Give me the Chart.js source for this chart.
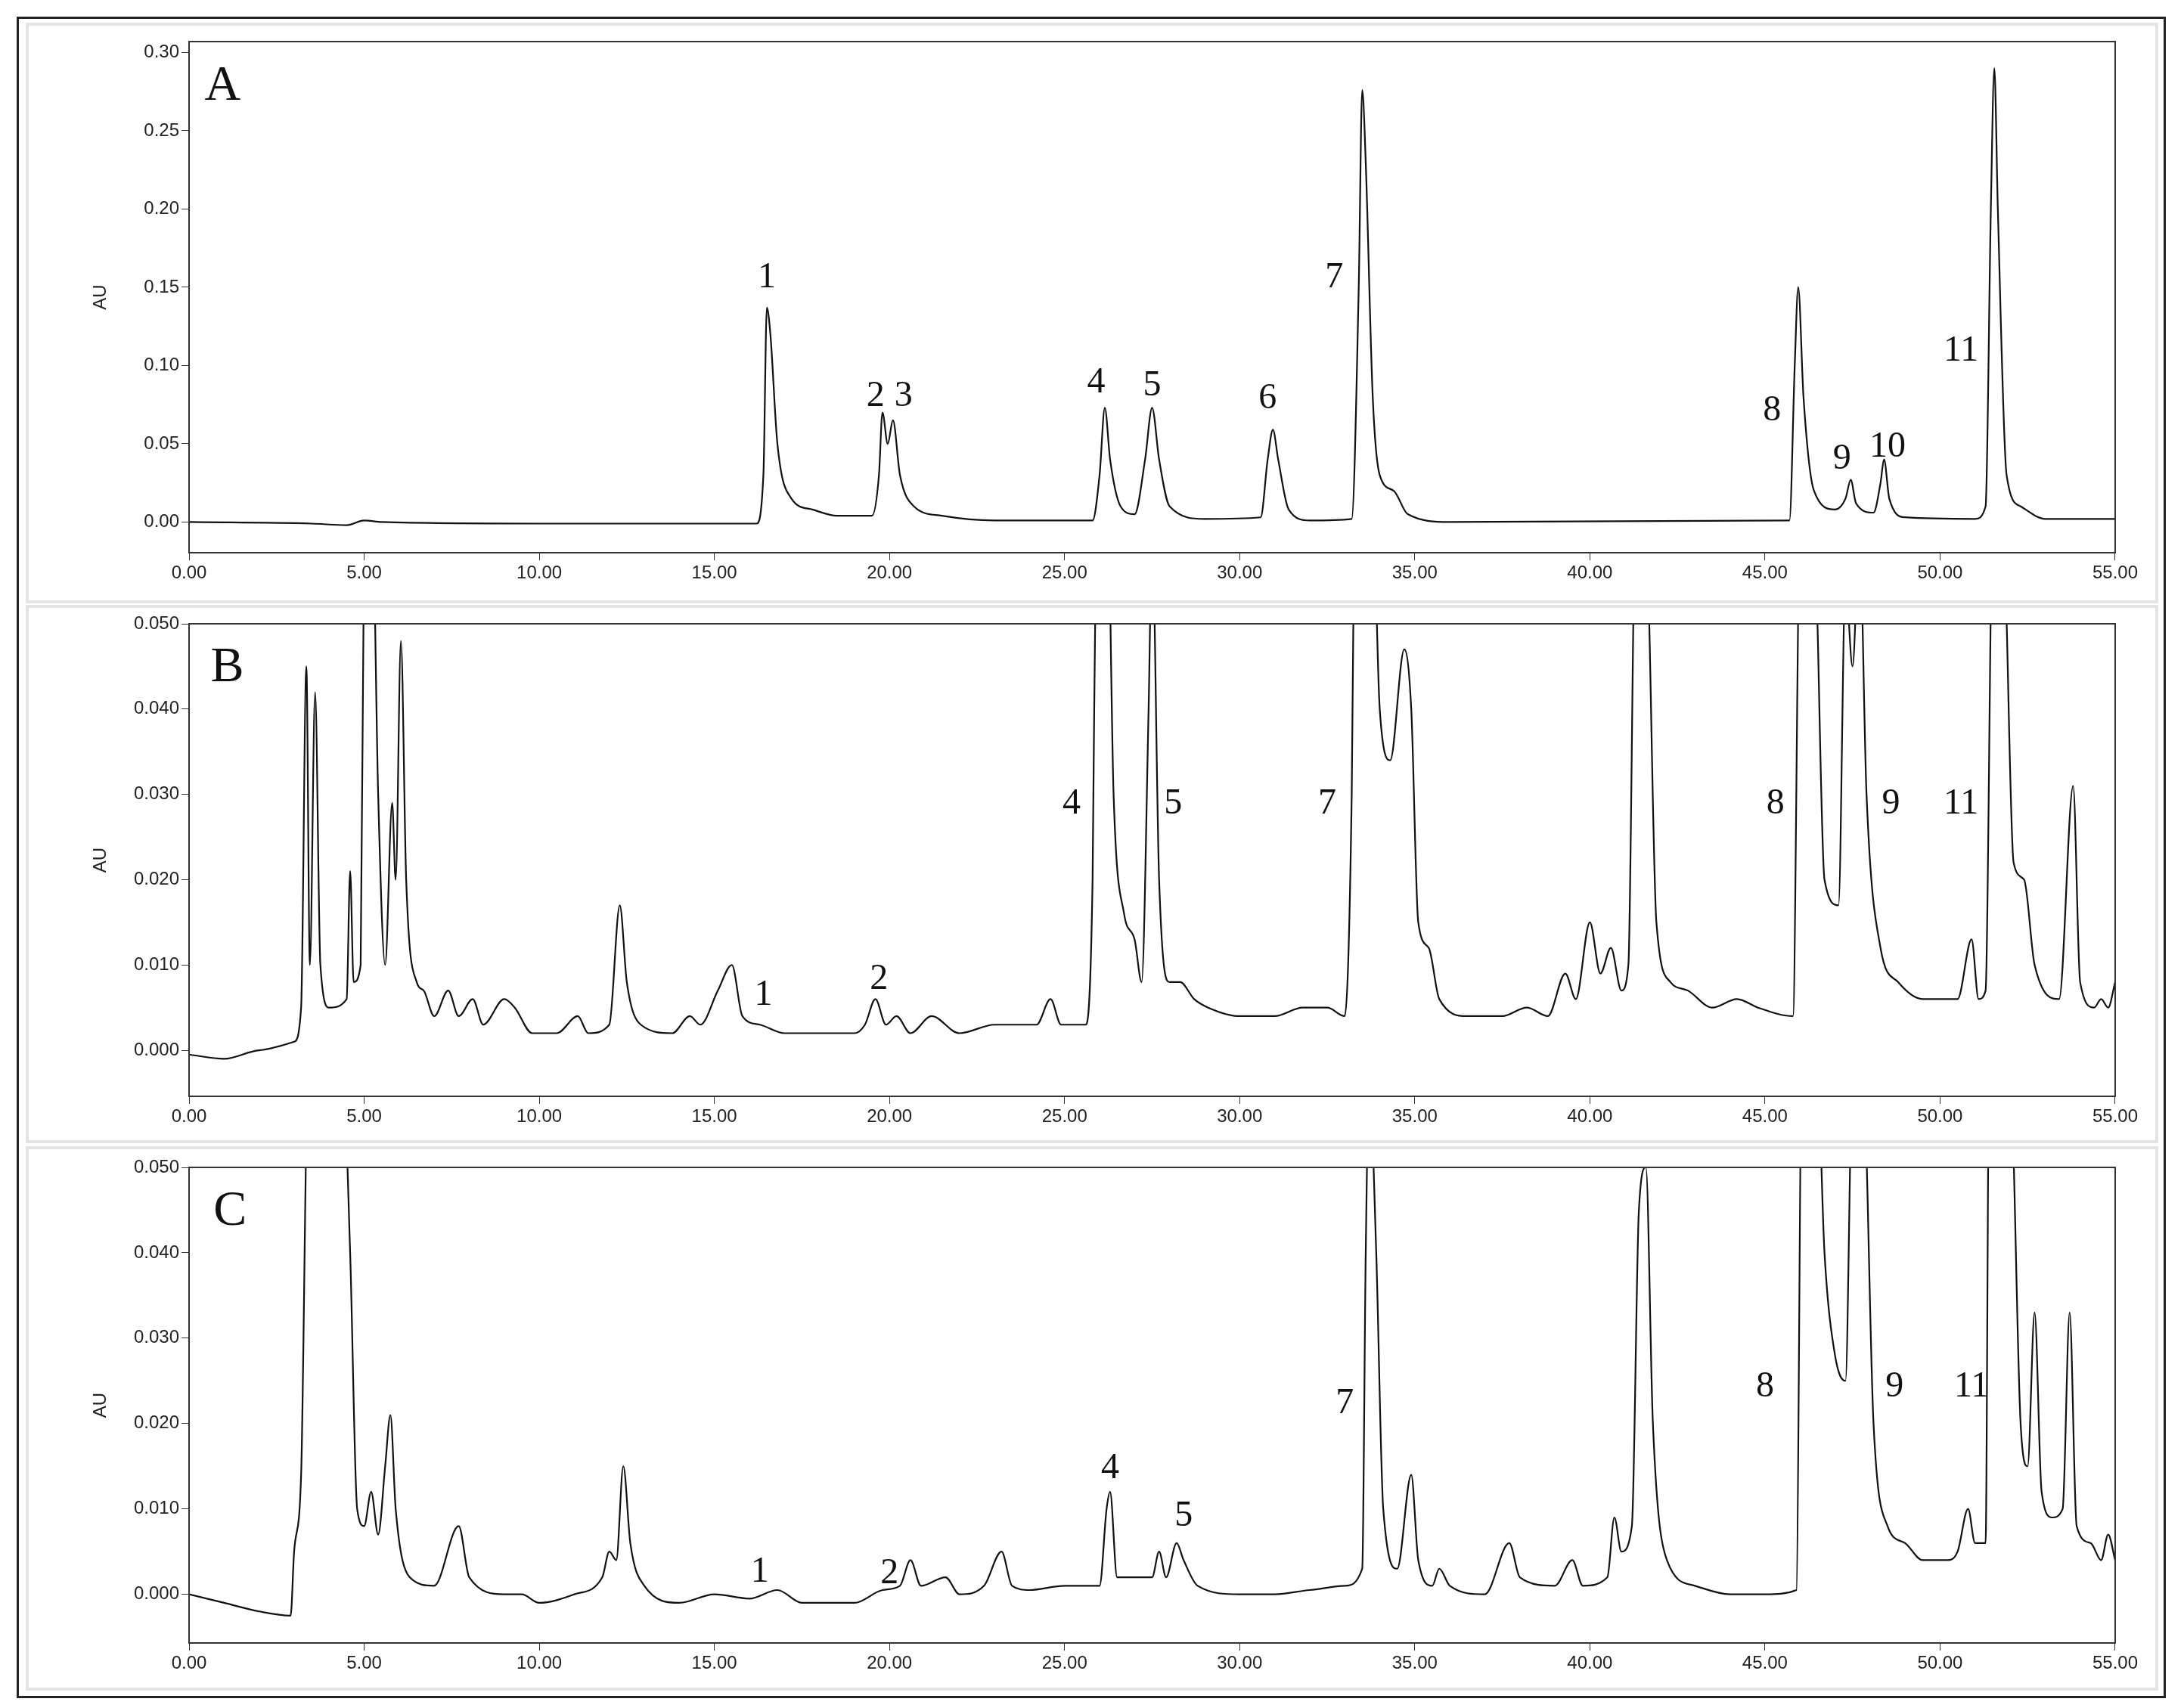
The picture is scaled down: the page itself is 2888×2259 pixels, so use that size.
<!DOCTYPE html>
<html><head><meta charset="utf-8">
<script src="https://cdn.jsdelivr.net/npm/chart.js@4/dist/chart.umd.min.js"></script>
<style>
body{margin:0;background:#fff;width:2888px;height:2259px;position:relative;overflow:hidden}
#frame{position:absolute;left:22px;top:22px;width:2836px;height:2218px;border:3px solid #222}
.panel{position:absolute;left:34px;width:2820px;border:4px solid #e4e4e4;box-sizing:border-box}
canvas{position:absolute}
</style></head><body>
<div id="frame"></div>
<div class="panel" style="top:30px;height:768px"></div>
<div class="panel" style="top:800px;height:712px"></div>
<div class="panel" style="top:1516px;height:720px"></div>
<canvas id="cA" style="left:30px;top:35px;width:2800px;height:770px"></canvas>
<canvas id="cB" style="left:30px;top:805px;width:2800px;height:720px"></canvas>
<canvas id="cC" style="left:30px;top:1524px;width:2800px;height:720px"></canvas>
<script>
// chromatogram traces [time (min), AU]
const traceA = [[0,0],[3.5,-0.001],[4.5,-0.002],[5,0.001],[5.5,0],[10,-0.001],[16.2,-0.001],[16.4,0.03],[16.5,0.137],[16.6,0.12],[16.8,0.05],[17.2,0.015],[17.8,0.008],[18.5,0.004],[19.5,0.004],[19.7,0.03],[19.8,0.07],[19.95,0.05],[20.1,0.065],[20.3,0.03],[20.7,0.01],[21.5,0.004],[23,0.001],[25.8,0.001],[26.0,0.03],[26.15,0.073],[26.3,0.04],[26.6,0.01],[27,0.005],[27.3,0.04],[27.5,0.073],[27.7,0.04],[28,0.01],[29,0.002],[30.6,0.003],[30.8,0.04],[30.95,0.059],[31.1,0.04],[31.4,0.008],[32,0.001],[33.2,0.002],[33.4,0.15],[33.5,0.276],[33.6,0.23],[33.8,0.08],[34,0.03],[34.4,0.02],[34.8,0.005],[36,0],[45.7,0.001],[45.85,0.1],[45.95,0.15],[46.1,0.08],[46.4,0.02],[47,0.008],[47.3,0.015],[47.45,0.027],[47.6,0.012],[48.1,0.006],[48.3,0.025],[48.4,0.04],[48.55,0.015],[49,0.003],[51,0.002],[51.3,0.01],[51.45,0.2],[51.55,0.29],[51.65,0.2],[51.9,0.03],[52.3,0.01],[53,0.002],[55,0.002]];
const traceB = [[0,-0.0005],[1,-0.001],[2,0],[3,0.001],[3.2,0.005],[3.35,0.045],[3.45,0.01],[3.6,0.042],[3.75,0.01],[4,0.005],[4.5,0.006],[4.6,0.021],[4.7,0.008],[4.9,0.01],[5.0,0.06],[5.2,0.07],[5.4,0.03],[5.6,0.01],[5.8,0.029],[5.9,0.02],[6.05,0.048],[6.2,0.02],[6.5,0.008],[6.7,0.007],[7,0.004],[7.4,0.007],[7.7,0.004],[8.1,0.006],[8.4,0.003],[9,0.006],[9.3,0.005],[9.8,0.002],[10.5,0.002],[11.1,0.004],[11.4,0.002],[12,0.003],[12.3,0.017],[12.5,0.008],[12.9,0.003],[13.8,0.002],[14.3,0.004],[14.6,0.003],[15.1,0.007],[15.5,0.01],[15.8,0.004],[16.3,0.003],[17,0.002],[19,0.002],[19.3,0.003],[19.6,0.006],[19.9,0.003],[20.2,0.004],[20.6,0.002],[21.2,0.004],[22,0.002],[23,0.003],[24.2,0.003],[24.6,0.006],[24.9,0.003],[25.6,0.003],[25.8,0.02],[25.9,0.06],[26.2,0.07],[26.4,0.03],[26.7,0.016],[27,0.013],[27.2,0.008],[27.4,0.04],[27.5,0.06],[27.7,0.02],[28,0.008],[28.3,0.008],[28.7,0.006],[29.1,0.005],[30,0.004],[31,0.004],[31.8,0.005],[32.5,0.005],[33,0.004],[33.2,0.03],[33.3,0.07],[33.7,0.08],[34,0.04],[34.3,0.034],[34.7,0.047],[34.9,0.04],[35.1,0.015],[35.4,0.012],[35.7,0.006],[36.5,0.004],[37.5,0.004],[38.2,0.005],[38.8,0.004],[39.3,0.009],[39.6,0.006],[40.0,0.015],[40.3,0.009],[40.6,0.012],[40.9,0.007],[41.1,0.01],[41.3,0.06],[41.6,0.06],[41.9,0.015],[42.3,0.008],[42.8,0.007],[43.5,0.005],[44.2,0.006],[44.8,0.005],[45.8,0.004],[46,0.06],[46.4,0.06],[46.7,0.02],[47.1,0.017],[47.3,0.055],[47.5,0.045],[47.7,0.06],[47.9,0.03],[48.3,0.012],[48.8,0.008],[49.5,0.006],[50.5,0.006],[50.9,0.013],[51.1,0.006],[51.3,0.007],[51.5,0.06],[51.8,0.06],[52.1,0.022],[52.4,0.02],[52.7,0.01],[53.4,0.006],[53.8,0.031],[54,0.008],[54.4,0.005],[54.6,0.006],[54.8,0.005],[55,0.008]];
const traceC = [[0,0],[1,-0.001],[2,-0.002],[2.9,-0.0025],[3,0.005],[3.2,0.014],[3.4,0.06],[4,0.06],[4.4,0.06],[4.6,0.04],[4.8,0.01],[5,0.008],[5.2,0.012],[5.4,0.007],[5.6,0.015],[5.75,0.021],[5.9,0.01],[6.3,0.002],[7,0.001],[7.7,0.008],[8,0.002],[9,0],[9.5,0],[10,-0.001],[11,0],[11.8,0.002],[12.0,0.005],[12.2,0.004],[12.4,0.015],[12.6,0.006],[13,0.001],[14,-0.001],[15,0],[16,-0.0005],[16.8,0.0005],[17.5,-0.001],[19,-0.001],[19.8,0.0005],[20.3,0.001],[20.6,0.004],[20.9,0.001],[21.6,0.002],[22,0],[22.7,0.001],[23.2,0.005],[23.5,0.001],[24,0.0005],[25,0.001],[26,0.001],[26.2,0.01],[26.3,0.012],[26.5,0.002],[27.5,0.002],[27.7,0.005],[27.9,0.002],[28.2,0.006],[28.4,0.004],[28.8,0.001],[30,0],[31,0],[32,0.0005],[33,0.001],[33.5,0.003],[33.6,0.04],[33.7,0.06],[33.9,0.04],[34.1,0.01],[34.5,0.003],[34.9,0.014],[35.1,0.004],[35.5,0.001],[35.7,0.003],[36,0.001],[37,0],[37.7,0.006],[38,0.002],[39,0.001],[39.5,0.004],[39.8,0.001],[40.5,0.002],[40.7,0.009],[40.9,0.005],[41.2,0.008],[41.4,0.045],[41.6,0.05],[41.8,0.02],[42.2,0.004],[43,0.001],[44,0],[45,0],[45.9,0.0005],[46.05,0.06],[46.5,0.06],[46.7,0.04],[47,0.028],[47.3,0.025],[47.5,0.06],[47.8,0.06],[48.1,0.02],[48.5,0.008],[49,0.006],[49.5,0.004],[50.2,0.004],[50.5,0.005],[50.8,0.01],[51,0.006],[51.3,0.006],[51.4,0.06],[52,0.06],[52.3,0.02],[52.5,0.015],[52.7,0.033],[52.9,0.012],[53.2,0.009],[53.5,0.01],[53.7,0.033],[53.9,0.008],[54.3,0.006],[54.6,0.004],[54.8,0.007],[55,0.004]];

// peak labels [text, time, AU]
const labelsA = [['A',0.96,0.278],['1',16.5,0.156],['2',19.6,0.08],['3',20.4,0.08],['4',25.9,0.089],['5',27.5,0.087],['6',30.8,0.079],['7',32.7,0.156],['8',45.2,0.071],['9',47.2,0.04],['10',48.5,0.048],['11',50.6,0.109]];
const labelsB = [['B',1.09,0.0448],['1',16.4,0.0064],['2',19.7,0.0083],['4',25.2,0.0289],['5',28.1,0.0289],['7',32.5,0.0289],['8',45.3,0.0289],['9',48.6,0.0289],['11',50.6,0.0289]];
const labelsC = [['C',1.17,0.0448],['1',16.3,0.0026],['2',20.0,0.0024],['4',26.3,0.0147],['5',28.4,0.0091],['7',33.0,0.0223],['8',45.0,0.0243],['9',48.7,0.0243],['11',50.9,0.0243]];

const xTicks = [0,5,10,15,20,25,30,35,40,45,50,55];

function makeChart(id, trace, labels, yMin, yMax, yStep, dec, axisH) {
  const frame = {
    id: 'frame',
    afterDatasetsDraw(chart) {
      const {ctx, chartArea: a, scales: {x, y}} = chart;
      ctx.save();
      ctx.strokeStyle = '#333'; ctx.lineWidth = 2;
      ctx.strokeRect(a.left, a.top, a.right - a.left, a.bottom - a.top);
      ctx.fillStyle = '#111'; ctx.textAlign = 'center'; ctx.textBaseline = 'middle';
      labels.forEach(([t, px, py], i) => {
        ctx.font = (i === 0 ? '66px' : '48px') + ' "Liberation Serif", serif';
        ctx.fillText(t, x.getPixelForValue(px), y.getPixelForValue(py));
      });
      // axis title
      ctx.fillStyle = '#222';
      ctx.font = '24px "Liberation Sans"';
      ctx.translate(103, (a.top + a.bottom) / 2);
      ctx.rotate(-Math.PI / 2);
      ctx.fillText('AU', 0, 0);
      ctx.restore();
    }
  };
  new Chart(document.getElementById(id), {
    type: 'line',
    data: { datasets: [{ data: trace.map(p => ({x: p[0], y: p[1]})), borderColor: '#111', borderWidth: 2.2, pointRadius: 0, cubicInterpolationMode: 'monotone' }] },
    options: {
      responsive: false, animation: false,
      layout: { padding: { top: 20, right: 22 } },
      plugins: { legend: { display: false }, tooltip: { enabled: false } },
      scales: {
        x: {
          type: 'linear', min: 0, max: 55,
          afterFit: s => { s.height = axisH; },
          afterBuildTicks: s => { s.ticks = xTicks.map(v => ({value: v})); },
          grid: { drawOnChartArea: false, tickLength: 10, color: '#333' },
          border: { display: false },
          ticks: { color: '#222', font: { size: 24, family: 'Liberation Sans' }, maxRotation: 0, callback: v => v.toFixed(2) }
        },
        y: {
          min: yMin, max: yMax,
          afterFit: s => { s.width = 220; },
          afterBuildTicks: s => {
            const t = [];
            for (let v = 0; v <= yMax + 1e-9; v += yStep) t.push({value: +v.toFixed(4)});
            s.ticks = t;
          },
          grid: { drawOnChartArea: false, tickLength: 10, color: '#333' },
          border: { display: false },
          ticks: { color: '#222', font: { size: 24, family: 'Liberation Sans' }, callback: v => v.toFixed(dec) }
        }
      }
    },
    plugins: [frame]
  });
}

['cA','cB','cC'].forEach(id => {
  const c = document.getElementById(id);
  c.width = parseInt(c.style.width); c.height = parseInt(c.style.height);
});
makeChart('cA', traceA, labelsA, -0.0196, 0.307, 0.05, 2, 74);
makeChart('cB', traceB, labelsB, -0.0054, 0.050, 0.01, 3, 75);
makeChart('cC', traceC, labelsC, -0.0057, 0.050, 0.01, 3, 71);
</script>
</body></html>
